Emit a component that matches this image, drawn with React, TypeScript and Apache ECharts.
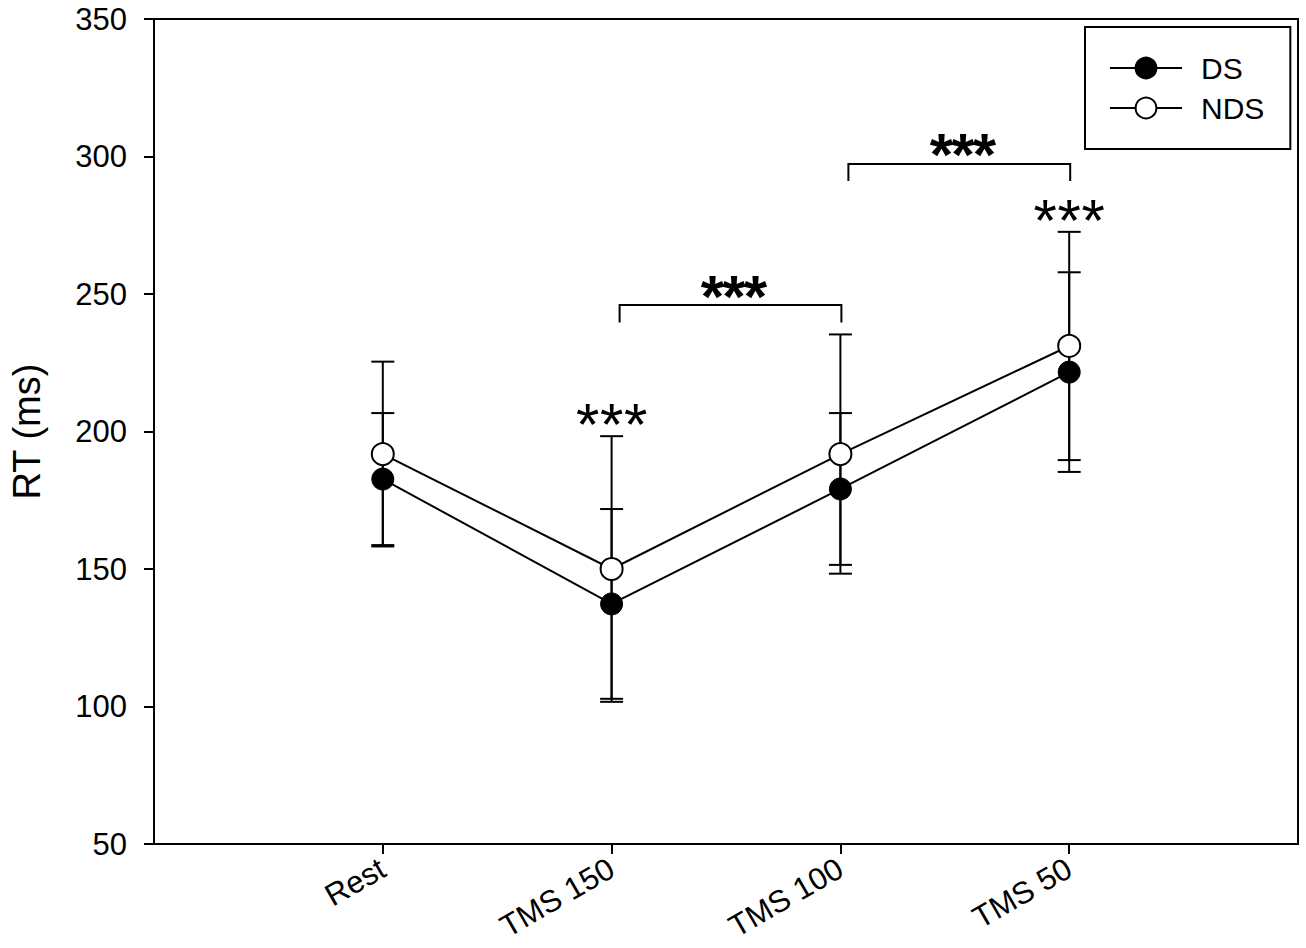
import { useEffect, useRef } from "react";
import * as echarts from "echarts";

// ---- data ----
const categories = ["", "Rest", "TMS 150", "TMS 100", "TMS 50", ""];
const dsMean = [null, 182.7, 137.3, 179.1, 221.6, null];
const dsErr = [null, 24.0, 34.5, 27.6, 36.3, null];
const ndsMean = [null, 191.8, 150.0, 191.8, 231.1, null];
const ndsErr = [null, 33.6, 48.3, 43.5, 41.5, null];
const yMin = 50;
const yMax = 350;
const yStep = 50;
// brackets: [fromIndex, toIndex, topValue, dropValue]
const brackets = [
  [2, 3, 246.0, 239.6],
  [3, 4, 297.3, 291.1],
];
// significance stars: [fromIndex, toIndex, centerValue, bold(1/0)]
const stars = [
  [2, 2, 205.0, 0],
  [2, 3, 251.8, 1],
  [3, 4, 303.5, 1],
  [4, 4, 279.5, 0],
];

const FONT = "'Liberation Sans', Arial, sans-serif";

function errRows(mean: (number | null)[], err: (number | null)[]) {
  const rows: number[][] = [];
  mean.forEach((m, i) => {
    if (m != null && err[i] != null) rows.push([i, m - (err[i] as number), m + (err[i] as number)]);
  });
  return rows;
}

export default function App() {
  const ref = useRef<HTMLDivElement>(null);
  useEffect(() => {
    if (!ref.current) return;
    const chart = echarts.init(ref.current, undefined, { renderer: "svg" });
    const black = "#000";
    const errRender = (params: any, api: any) => {
      const x = api.value(0);
      const lo = api.coord([x, api.value(1)]);
      const hi = api.coord([x, api.value(2)]);
      const w = 11.5;
      const st = { stroke: black, lineWidth: 2 };
      return {
        type: "group",
        children: [
          { type: "line", shape: { x1: lo[0], y1: lo[1], x2: hi[0], y2: hi[1] }, style: st },
          { type: "line", shape: { x1: lo[0] - w, y1: lo[1], x2: lo[0] + w, y2: lo[1] }, style: st },
          { type: "line", shape: { x1: hi[0] - w, y1: hi[1], x2: hi[0] + w, y2: hi[1] }, style: st },
        ],
      };
    };
    const option: any = {
      animation: false,
      backgroundColor: "#fff",
      grid: { left: 153, top: 19, right: 8, bottom: 104, show: true, borderColor: black, borderWidth: 2 },
      legend: {
        orient: "vertical",
        left: 1085,
        top: 27,
        padding: [26, 26, 26, 24],
        borderColor: black,
        borderWidth: 2,
        borderRadius: 0,
        itemWidth: 72,
        itemHeight: 26,
        itemGap: 10,
        textStyle: { fontSize: 30, fontFamily: FONT, color: black, padding: [0, 0, 0, 14] },
        data: ["DS", "NDS"],
      },
      xAxis: {
        type: "category",
        data: categories,
        boundaryGap: false,
        axisLine: { lineStyle: { color: black, width: 2 } },
        axisTick: { interval: (i: number, v: string) => v !== "", length: 10, lineStyle: { color: black, width: 2 } },
        axisLabel: {
          interval: (i: number, v: string) => v !== "",
          rotate: 30,
          fontSize: 31,
          fontFamily: FONT,
          color: black,
          margin: 22,
        },
        splitLine: { show: false },
      },
      yAxis: {
        type: "value",
        min: yMin,
        max: yMax,
        interval: yStep,
        name: "RT (ms)",
        nameLocation: "middle",
        nameGap: 108,
        nameTextStyle: { fontSize: 38, fontFamily: FONT, color: black },
        axisLine: { show: true, lineStyle: { color: black, width: 2 } },
        axisTick: { show: true, length: 10, lineStyle: { color: black, width: 2 } },
        axisLabel: { fontSize: 31, fontFamily: FONT, color: black, margin: 27 },
        splitLine: { show: false },
      },
      series: [
        {
          type: "custom",
          name: "DS err",
          renderItem: errRender,
          data: errRows(dsMean, dsErr),
          encode: { x: 0, y: [1, 2] },
          z: 1,
          silent: true,
        },
        {
          type: "custom",
          name: "NDS err",
          renderItem: errRender,
          data: errRows(ndsMean, ndsErr),
          encode: { x: 0, y: [1, 2] },
          z: 1,
          silent: true,
        },
        {
          type: "line",
          name: "DS",
          data: dsMean,
          symbol: "circle",
          symbolSize: 22,
          lineStyle: { color: black, width: 2 },
          itemStyle: { color: black, borderColor: black, borderWidth: 1 },
          z: 3,
        },
        {
          type: "line",
          name: "NDS",
          data: ndsMean,
          symbol: "circle",
          symbolSize: 22,
          lineStyle: { color: black, width: 2 },
          itemStyle: { color: "#fff", borderColor: black, borderWidth: 2 },
          z: 3,
        },
        {
          type: "custom",
          name: "brackets",
          data: brackets,
          encode: { x: [0, 1], y: [2, 3] },
          z: 2,
          silent: true,
          renderItem: (params: any, api: any) => {
            const a = api.coord([api.value(0), api.value(2)]);
            const b = api.coord([api.value(1), api.value(2)]);
            const d = api.coord([api.value(1), api.value(3)]);
            const x1 = a[0] + 8;
            const x2 = b[0] + 1;
            const st = { stroke: black, lineWidth: 2, fill: "none" };
            return {
              type: "polyline",
              shape: { points: [[x1, d[1]], [x1, a[1]], [x2, a[1]], [x2, d[1]]] },
              style: st,
            };
          },
        },
        {
          type: "custom",
          name: "stars",
          data: stars,
          encode: { x: [0, 1], y: 2 },
          z: 4,
          silent: true,
          renderItem: (params: any, api: any) => {
            const a = api.coord([api.value(0), api.value(2)]);
            const b = api.coord([api.value(1), api.value(2)]);
            const bold = api.value(3) === 1;
            const cx = bold ? (a[0] + 8 + b[0]) / 2 + 4 : a[0];
            const fs = 60;
            const sp = bold ? 21.5 : 24;
            const y = a[1] + fs * 0.12;
            return {
              type: "group",
              children: [-1, 0, 1].map((k) => ({
                type: "text",
                x: cx + k * sp,
                y,
                style: {
                  text: "*",
                  fontSize: fs,
                  fontFamily: FONT,
                  fontWeight: bold ? "bold" : "normal",
                  fill: black,
                  align: "center",
                  verticalAlign: "middle",
                },
              })),
            };
          },
        },
      ],
    };
    chart.setOption(option);
    return () => chart.dispose();
  }, []);
  return <div ref={ref} style={{ position: "absolute", left: 0, top: 0, width: 1306, height: 948 }} />;
}
